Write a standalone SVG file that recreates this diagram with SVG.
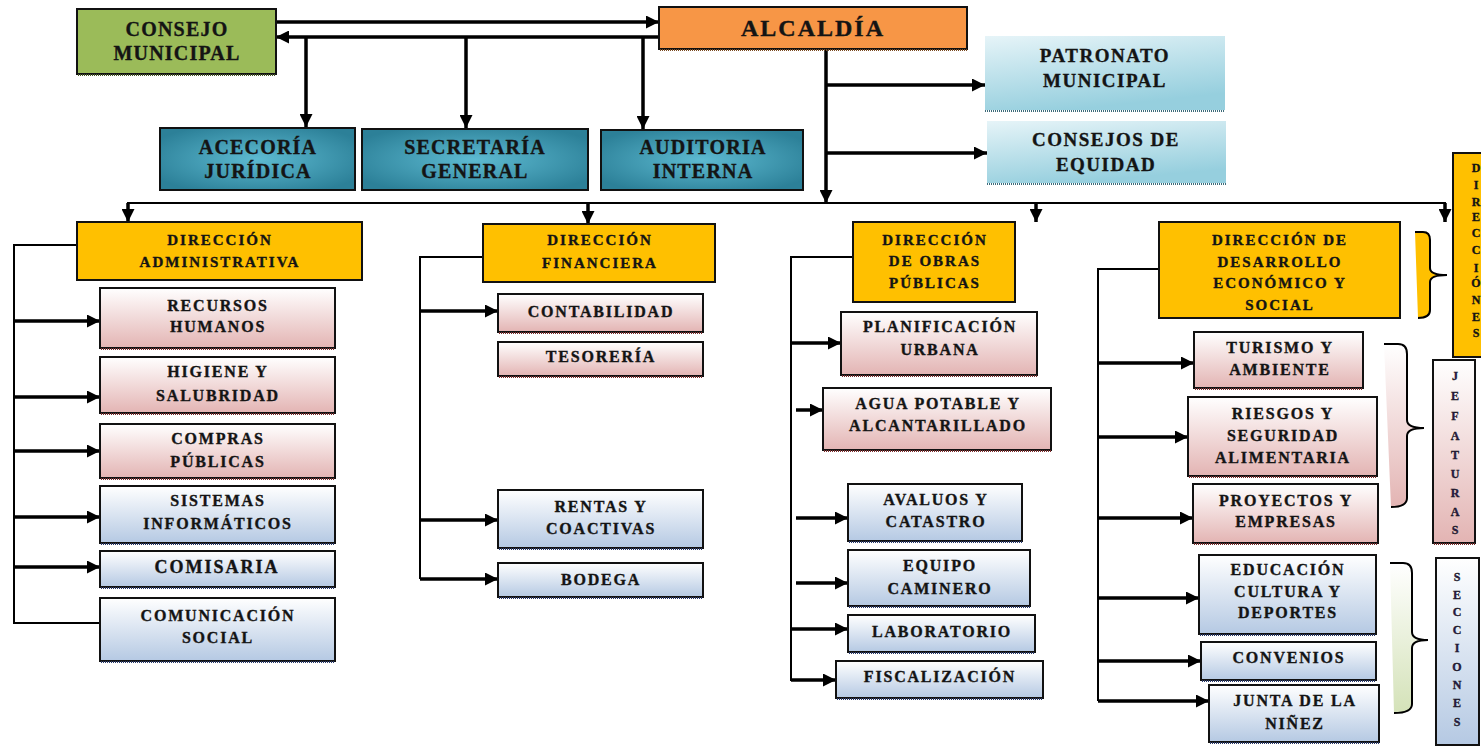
<svg xmlns="http://www.w3.org/2000/svg" width="1481" height="747" viewBox="0 0 1481 747">
<style>
.t{font-family:"Liberation Serif","Times New Roman",serif;font-weight:bold;fill:#141414;stroke:#141414;stroke-width:0.35px;text-anchor:middle}
.big{font-size:20px;letter-spacing:1.2px}
.alc{font-size:24px;letter-spacing:2px}
.pat{font-size:19px;letter-spacing:1.5px}
.dir{font-size:15px;letter-spacing:2px}
.sub{font-size:16px;letter-spacing:1.8px}
.vl{font-size:12px}
.bx{stroke:#111;stroke-width:2}
.sh{stroke-width:2;stroke-dasharray:1 1;fill:none}
.ln{stroke:#000;stroke-width:3.5;fill:none}
.thin{stroke:#000;stroke-width:2;fill:none}
.br{stroke:#000;stroke-width:2}
</style>
<defs>
<marker id="ah" viewBox="0 0 10 10" refX="10" refY="5" markerWidth="13" markerHeight="13" markerUnits="userSpaceOnUse" orient="auto"><path d="M0,0 L10,5 L0,10 z" fill="#000"/></marker>
<linearGradient id="pink" x1="0" y1="0" x2="0" y2="1"><stop offset="0" stop-color="#FFFFFF"/><stop offset="1" stop-color="#E3B4B3"/></linearGradient>
<linearGradient id="blue" x1="0" y1="0" x2="0" y2="1"><stop offset="0" stop-color="#FFFFFF"/><stop offset="1" stop-color="#B5C9E3"/></linearGradient>
<linearGradient id="green" x1="0" y1="0" x2="0" y2="1"><stop offset="0" stop-color="#FFFFFF"/><stop offset="1" stop-color="#D4E2B8"/></linearGradient>
<radialGradient id="teal" cx="0.5" cy="0.5" r="0.6"><stop offset="0" stop-color="#5DBAD1"/><stop offset="1" stop-color="#2C8098"/></radialGradient>
<linearGradient id="lblue" x1="0" y1="0" x2="0.35" y2="1"><stop offset="0" stop-color="#E6F4F8"/><stop offset="1" stop-color="#96CFDE"/></linearGradient>
</defs>

<g id="connectors">
<path class="ln" d="M276,22 H659" marker-end="url(#ah)"/>
<path class="ln" d="M659,37 H276" marker-end="url(#ah)"/>
<path class="ln" d="M306,37 V127" marker-end="url(#ah)"/>
<path class="ln" d="M466,37 V128" marker-end="url(#ah)"/>
<path class="ln" d="M643,37 V129" marker-end="url(#ah)"/>
<path class="ln" d="M826,49 V203" marker-end="url(#ah)"/>
<path class="ln" d="M826,85 H985" marker-end="url(#ah)"/>
<path class="ln" d="M826,153 H987" marker-end="url(#ah)"/>
<path class="thin" d="M127,203 H1446"/>
<path class="ln" d="M128,203 V222" marker-end="url(#ah)"/>
<path class="ln" d="M588,203 V224" marker-end="url(#ah)"/>
<path class="ln" d="M1036,203 V222" marker-end="url(#ah)"/>
<path class="ln" d="M1445,203 V222" marker-end="url(#ah)"/>
<path class="thin" d="M77,245 H14 V623 H100"/>
<path class="ln" d="M14,321 H100" marker-end="url(#ah)"/>
<path class="ln" d="M14,397 H100" marker-end="url(#ah)"/>
<path class="ln" d="M14,451 H100" marker-end="url(#ah)"/>
<path class="ln" d="M14,517 H100" marker-end="url(#ah)"/>
<path class="ln" d="M14,567 H100" marker-end="url(#ah)"/>
<path class="thin" d="M483,257 H420 V579"/>
<path class="ln" d="M420,311 H498" marker-end="url(#ah)"/>
<path class="ln" d="M420,520 H498" marker-end="url(#ah)"/>
<path class="ln" d="M420,579 H498" marker-end="url(#ah)"/>
<path class="thin" d="M853,257 H791 V681"/>
<path class="ln" d="M791,343 H841" marker-end="url(#ah)"/>
<path class="ln" d="M796,410 H823" marker-end="url(#ah)"/>
<path class="ln" d="M796,518 H848" marker-end="url(#ah)"/>
<path class="ln" d="M796,583 H848" marker-end="url(#ah)"/>
<path class="ln" d="M791,629 H848" marker-end="url(#ah)"/>
<path class="ln" d="M791,680 H836" marker-end="url(#ah)"/>
<path class="thin" d="M1159,269 H1098 V701"/>
<path class="ln" d="M1098,363 H1194" marker-end="url(#ah)"/>
<path class="ln" d="M1098,437 H1188" marker-end="url(#ah)"/>
<path class="ln" d="M1098,518 H1193" marker-end="url(#ah)"/>
<path class="ln" d="M1098,598 H1199" marker-end="url(#ah)"/>
<path class="ln" d="M1098,661 H1201" marker-end="url(#ah)"/>
<path class="ln" d="M1098,701 H1209" marker-end="url(#ah)"/>
</g>

<g id="consejo-municipal">
<rect class="bx" x="77" y="9" width="199" height="65" fill="#9BBB59"/>
<line class="sh" x1="78" y1="75" x2="276" y2="75" stroke="#4a5a2a"/>
<text class="t big" x="177" y="36">CONSEJO</text>
<text class="t big" x="177" y="60">MUNICIPAL</text>
</g>
<g id="alcaldia">
<rect class="bx" x="659" y="7" width="308" height="42" fill="#F79646"/>
<line class="sh" x1="660" y1="50" x2="967" y2="50" stroke="#7a4a20"/>
<text class="t alc" x="813" y="36">ALCALDÍA</text>
</g>
<g id="acecoria">
<rect class="bx" x="160" y="128" width="195" height="62" fill="url(#teal)"/>
<text class="t big" x="258" y="154">ACECORÍA</text>
<text class="t big" x="258" y="178">JURÍDICA</text>
</g>
<g id="secretaria">
<rect class="bx" x="362" y="129" width="226" height="61" fill="url(#teal)"/>
<text class="t big" x="475" y="154">SECRETARÍA</text>
<text class="t big" x="475" y="178">GENERAL</text>
</g>
<g id="auditoria">
<rect class="bx" x="601" y="130" width="202" height="60" fill="url(#teal)"/>
<text class="t big" x="703" y="154">AUDITORIA</text>
<text class="t big" x="703" y="178">INTERNA</text>
</g>
<g id="patronato">
<rect x="985" y="36" width="240" height="74" fill="url(#lblue)"/>
<line class="sh" x1="985" y1="111" x2="1225" y2="111" stroke="#3d6b7a"/>
<text class="t pat" x="1105" y="62">PATRONATO</text>
<text class="t pat" x="1105" y="87">MUNICIPAL</text>
</g>
<g id="consejos-equidad">
<rect x="987" y="121" width="239" height="62" fill="url(#lblue)"/>
<line class="sh" x1="987" y1="184" x2="1226" y2="184" stroke="#3d6b7a"/>
<text class="t pat" x="1106" y="146">CONSEJOS DE</text>
<text class="t pat" x="1106" y="171">EQUIDAD</text>
</g>

<g id="dir-administrativa">
<rect class="bx" x="77" y="222" width="285" height="58" fill="#FFC000"/>
<text class="t dir" x="220" y="245">DIRECCIÓN</text>
<text class="t dir" x="220" y="267">ADMINISTRATIVA</text>
</g>
<g id="recursos-humanos">
<rect class="bx" x="100" y="288" width="235" height="60" fill="url(#pink)"/>
<line class="sh" x1="101" y1="349" x2="335" y2="349" stroke="#7a2e2e"/>
<text class="t sub" x="218" y="311">RECURSOS</text>
<text class="t sub" x="218" y="332">HUMANOS</text>
</g>
<g id="higiene">
<rect class="bx" x="100" y="357" width="235" height="56" fill="url(#pink)"/>
<line class="sh" x1="101" y1="414" x2="335" y2="414" stroke="#7a2e2e"/>
<text class="t sub" x="218" y="377">HIGIENE Y</text>
<text class="t sub" x="218" y="401">SALUBRIDAD</text>
</g>
<g id="compras">
<rect class="bx" x="100" y="424" width="235" height="54" fill="url(#pink)"/>
<line class="sh" x1="101" y1="479" x2="335" y2="479" stroke="#7a2e2e"/>
<text class="t sub" x="218" y="444">COMPRAS</text>
<text class="t sub" x="218" y="467">PÚBLICAS</text>
</g>
<g id="sistemas">
<rect class="bx" x="100" y="486" width="235" height="57" fill="url(#blue)"/>
<line class="sh" x1="101" y1="544" x2="335" y2="544" stroke="#2a3a6a"/>
<text class="t sub" x="218" y="506">SISTEMAS</text>
<text class="t sub" x="218" y="529">INFORMÁTICOS</text>
</g>
<g id="comisaria">
<rect class="bx" x="100" y="551" width="235" height="36" fill="url(#blue)"/>
<line class="sh" x1="101" y1="588" x2="335" y2="588" stroke="#2a3a6a"/>
<text class="t" x="217" y="573" style="font-size:18px;letter-spacing:2px">COMISARIA</text>
</g>
<g id="comunicacion">
<rect class="bx" x="100" y="598" width="235" height="63" fill="url(#blue)"/>
<line class="sh" x1="101" y1="662" x2="335" y2="662" stroke="#2a3a6a"/>
<text class="t sub" x="218" y="621">COMUNICACIÓN</text>
<text class="t sub" x="218" y="643">SOCIAL</text>
</g>

<g id="dir-financiera">
<rect class="bx" x="483" y="224" width="232" height="58" fill="#FFC000"/>
<text class="t dir" x="600" y="245">DIRECCIÓN</text>
<text class="t dir" x="600" y="268">FINANCIERA</text>
</g>
<g id="contabilidad">
<rect class="bx" x="498" y="294" width="205" height="38" fill="url(#pink)"/>
<line class="sh" x1="499" y1="333" x2="703" y2="333" stroke="#7a2e2e"/>
<text class="t sub" x="601" y="317">CONTABILIDAD</text>
</g>
<g id="tesoreria">
<rect class="bx" x="498" y="342" width="205" height="34" fill="url(#pink)"/>
<line class="sh" x1="499" y1="377" x2="703" y2="377" stroke="#7a2e2e"/>
<text class="t sub" x="601" y="362">TESORERÍA</text>
</g>
<g id="rentas">
<rect class="bx" x="498" y="490" width="205" height="58" fill="url(#blue)"/>
<line class="sh" x1="499" y1="549" x2="703" y2="549" stroke="#2a3a6a"/>
<text class="t sub" x="601" y="512">RENTAS Y</text>
<text class="t sub" x="601" y="534">COACTIVAS</text>
</g>
<g id="bodega">
<rect class="bx" x="498" y="563" width="205" height="34" fill="url(#blue)"/>
<line class="sh" x1="499" y1="598" x2="703" y2="598" stroke="#2a3a6a"/>
<text class="t sub" x="601" y="585">BODEGA</text>
</g>

<g id="dir-obras">
<rect class="bx" x="853" y="222" width="162" height="80" fill="#FFC000"/>
<text class="t dir" x="935" y="245">DIRECCIÓN</text>
<text class="t dir" x="935" y="266">DE OBRAS</text>
<text class="t dir" x="935" y="288">PÚBLICAS</text>
</g>
<g id="planificacion">
<rect class="bx" x="841" y="312" width="196" height="63" fill="url(#pink)"/>
<line class="sh" x1="842" y1="376" x2="1037" y2="376" stroke="#7a2e2e"/>
<text class="t sub" x="940" y="332">PLANIFICACIÓN</text>
<text class="t sub" x="940" y="355">URBANA</text>
</g>
<g id="agua-potable">
<rect class="bx" x="823" y="388" width="228" height="62" fill="url(#pink)"/>
<line class="sh" x1="824" y1="451" x2="1051" y2="451" stroke="#7a2e2e"/>
<text class="t sub" x="938" y="409">AGUA POTABLE Y</text>
<text class="t sub" x="938" y="431">ALCANTARILLADO</text>
</g>
<g id="avaluos">
<rect class="bx" x="848" y="484" width="174" height="57" fill="url(#blue)"/>
<line class="sh" x1="849" y1="542" x2="1022" y2="542" stroke="#2a3a6a"/>
<text class="t sub" x="936" y="505">AVALUOS Y</text>
<text class="t sub" x="936" y="527">CATASTRO</text>
</g>
<g id="equipo">
<rect class="bx" x="848" y="550" width="182" height="56" fill="url(#blue)"/>
<line class="sh" x1="849" y1="607" x2="1030" y2="607" stroke="#2a3a6a"/>
<text class="t sub" x="940" y="571">EQUIPO</text>
<text class="t sub" x="940" y="594">CAMINERO</text>
</g>
<g id="laboratorio">
<rect class="bx" x="848" y="615" width="187" height="37" fill="url(#blue)"/>
<line class="sh" x1="849" y1="653" x2="1035" y2="653" stroke="#2a3a6a"/>
<text class="t sub" x="942" y="637">LABORATORIO</text>
</g>
<g id="fiscalizacion">
<rect class="bx" x="836" y="661" width="207" height="37" fill="url(#blue)"/>
<line class="sh" x1="837" y1="699" x2="1043" y2="699" stroke="#2a3a6a"/>
<text class="t sub" x="940" y="682">FISCALIZACIÓN</text>
</g>

<g id="dir-desarrollo">
<rect class="bx" x="1159" y="222" width="241" height="96" fill="#FFC000"/>
<text class="t dir" x="1280" y="245">DIRECCIÓN DE</text>
<text class="t dir" x="1280" y="267">DESARROLLO</text>
<text class="t dir" x="1280" y="288">ECONÓMICO Y</text>
<text class="t dir" x="1280" y="310">SOCIAL</text>
</g>
<g id="turismo">
<rect class="bx" x="1194" y="332" width="169" height="56" fill="url(#pink)"/>
<line class="sh" x1="1195" y1="389" x2="1363" y2="389" stroke="#7a2e2e"/>
<text class="t sub" x="1280" y="353">TURISMO Y</text>
<text class="t sub" x="1280" y="375">AMBIENTE</text>
</g>
<g id="riesgos">
<rect class="bx" x="1188" y="397" width="189" height="79" fill="url(#pink)"/>
<line class="sh" x1="1189" y1="477" x2="1377" y2="477" stroke="#7a2e2e"/>
<text class="t sub" x="1283" y="419">RIESGOS Y</text>
<text class="t sub" x="1283" y="441">SEGURIDAD</text>
<text class="t sub" x="1283" y="463">ALIMENTARIA</text>
</g>
<g id="proyectos">
<rect class="bx" x="1193" y="484" width="185" height="59" fill="url(#pink)"/>
<line class="sh" x1="1194" y1="544" x2="1378" y2="544" stroke="#7a2e2e"/>
<text class="t sub" x="1286" y="506">PROYECTOS Y</text>
<text class="t sub" x="1286" y="527">EMPRESAS</text>
</g>
<g id="educacion">
<rect class="bx" x="1199" y="555" width="177" height="79" fill="url(#blue)"/>
<line class="sh" x1="1200" y1="635" x2="1376" y2="635" stroke="#2a3a6a"/>
<text class="t sub" x="1288" y="575">EDUCACIÓN</text>
<text class="t sub" x="1288" y="597">CULTURA Y</text>
<text class="t sub" x="1288" y="618">DEPORTES</text>
</g>
<g id="convenios">
<rect class="bx" x="1201" y="642" width="175" height="38" fill="url(#blue)"/>
<line class="sh" x1="1202" y1="681" x2="1376" y2="681" stroke="#2a3a6a"/>
<text class="t sub" x="1289" y="663">CONVENIOS</text>
</g>
<g id="junta-ninez">
<rect class="bx" x="1209" y="685" width="170" height="57" fill="url(#blue)"/>
<line class="sh" x1="1210" y1="743" x2="1379" y2="743" stroke="#2a3a6a"/>
<text class="t sub" x="1295" y="706">JUNTA DE LA</text>
<text class="t sub" x="1295" y="729">NIÑEZ</text>
</g>

<g id="brace-direcciones">
<path d="M1415,232 H1423 Q1430,232 1430,240 V268 Q1430,275 1447,275 Q1430,275 1430,282 V310 Q1430,318 1418,318 Z" fill="#FFC000"/>
<path class="br" fill="none" d="M1415,232 H1423 Q1430,232 1430,240 V268 Q1430,275 1447,275 Q1430,275 1430,282 V310 Q1430,318 1418,318"/>
</g>
<g id="label-direcciones">
<rect class="bx" x="1453" y="153" width="40" height="204" fill="#FFC000"/>
<text class="t vl" x="1476">
<tspan x="1476" y="172">D</tspan><tspan x="1476" y="189">I</tspan><tspan x="1476" y="206">R</tspan><tspan x="1476" y="221">E</tspan><tspan x="1476" y="237">C</tspan><tspan x="1476" y="254">C</tspan><tspan x="1476" y="272">I</tspan><tspan x="1476" y="287">Ó</tspan><tspan x="1476" y="304">N</tspan><tspan x="1476" y="321">E</tspan><tspan x="1476" y="337">S</tspan>
</text>
</g>
<g id="brace-jefaturas">
<path d="M1384,344 H1398 Q1407,344 1407,354 V420 Q1407,428 1424,428 Q1407,428 1407,436 V498 Q1407,507 1391,507 Z" fill="url(#pink)"/>
<path class="br" fill="none" d="M1384,344 H1398 Q1407,344 1407,354 V420 Q1407,428 1424,428 Q1407,428 1407,436 V498 Q1407,507 1391,507"/>
</g>
<g id="label-jefaturas">
<rect class="bx" x="1433" y="360" width="42" height="183" fill="url(#pink)"/>
<line class="sh" x1="1434" y1="544" x2="1475" y2="544" stroke="#7a2e2e"/>
<text class="t vl" x="1455" style="fill:#2a1a4a">
<tspan x="1455" y="380">J</tspan><tspan x="1455" y="400">E</tspan><tspan x="1455" y="420">F</tspan><tspan x="1455" y="440">A</tspan><tspan x="1455" y="459">T</tspan><tspan x="1455" y="478">U</tspan><tspan x="1455" y="497">R</tspan><tspan x="1455" y="516">A</tspan><tspan x="1455" y="534">S</tspan>
</text>
</g>
<g id="brace-secciones">
<path d="M1390,563 H1403 Q1412,563 1412,573 V632 Q1412,640 1428,640 Q1412,640 1412,648 V704 Q1412,713 1394,713 Z" fill="url(#green)"/>
<path class="br" fill="none" d="M1390,563 H1403 Q1412,563 1412,573 V632 Q1412,640 1428,640 Q1412,640 1412,648 V704 Q1412,713 1394,713"/>
</g>
<g id="label-secciones">
<rect class="bx" x="1436" y="558" width="43" height="187" fill="url(#blue)"/>
<text class="t vl" x="1457" style="fill:#2a1a4a">
<tspan x="1457" y="581">S</tspan><tspan x="1457" y="599">E</tspan><tspan x="1457" y="616">C</tspan><tspan x="1457" y="634">C</tspan><tspan x="1457" y="652">I</tspan><tspan x="1457" y="671">O</tspan><tspan x="1457" y="689">N</tspan><tspan x="1457" y="707">E</tspan><tspan x="1457" y="726">S</tspan>
</text>
</g>
</svg>
